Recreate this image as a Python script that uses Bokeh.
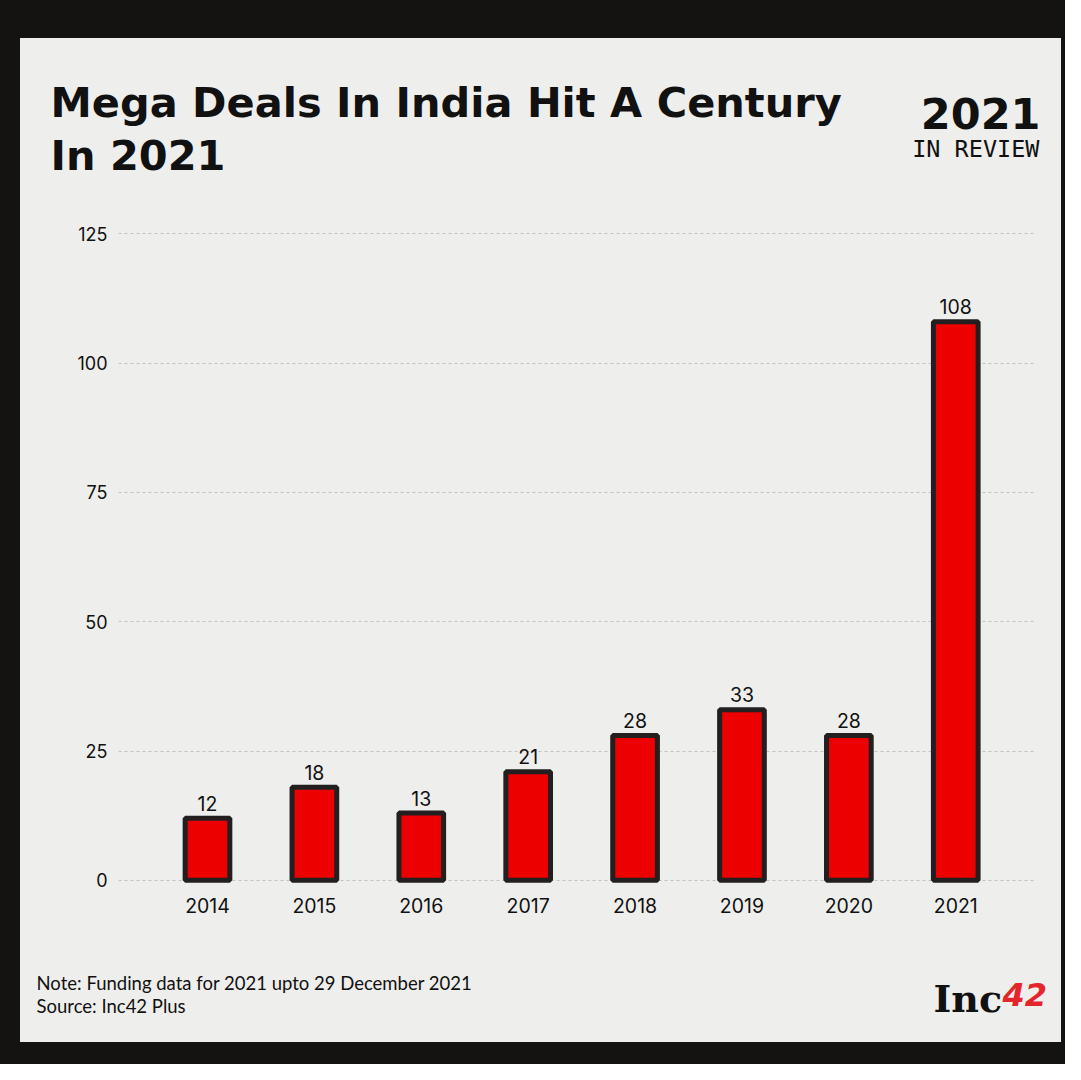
from bokeh.plotting import figure
from bokeh.layouts import column
from bokeh.models import ColumnDataSource, Range1d, FixedTicker, Label
from bokeh.embed import file_html
from bokeh.resources import INLINE
from bokeh.core.properties import value

# ---- data ----
years = ["2014", "2015", "2016", "2017", "2018", "2019", "2020", "2021"]
deals = [12, 18, 13, 21, 28, 33, 28, 108]
y_ticks = [0, 25, 50, 75, 100, 125]

title_lines = ["Mega Deals In India Hit A Century", "In 2021"]
badge_year = "2021"
badge_sub = "IN REVIEW"
notes = ["Note: Funding data for 2021 upto 29 December 2021", "Source: Inc42 Plus"]
logo_a = "Inc"
logo_b = "42"

# ---- layout ----
W = 1041
TOP_H, CHART_H, BOT_H = 170, 750, 84
FL, FR, FT, FB = 98, 26, 15, 73
X0, X1 = -0.8326, 7.746
Y0, Y1 = -1, 127

PANEL = "#eeeeec"
INK = "#111111"


def blank_fig(h):
    f = figure(width=W, height=h, x_range=Range1d(0, W), y_range=Range1d(h, 0),
               output_backend="svg", toolbar_location=None, min_border=0,
               x_axis_type=None, y_axis_type=None, frame_align=False)
    f.background_fill_color = PANEL
    f.border_fill_color = PANEL
    f.outline_line_color = None
    f.xgrid.visible = False
    f.ygrid.visible = False
    return f


def lab(f, txt, cx, cy, size, font, style="normal", color=INK, align="left"):
    f.add_layout(Label(x=cx, y=cy, text=txt, text_font=font,
                       text_font_size=size, text_font_style=style,
                       text_color=color, text_align=align,
                       text_baseline="alphabetic"))


# ---- header ----
top = blank_fig(TOP_H)
lab(top, title_lines[0], 30, 64, "41.5px", "DejaVu Sans", "bold")
lab(top, title_lines[1], 30, 117, "41.5px", "DejaVu Sans", "bold")
lab(top, badge_year, 1020, 75, "43px", "DejaVu Sans", "bold", align="right")
lab(top, badge_sub, 1019, 110, "23.5px", "DejaVu Sans Mono", align="right")

# ---- chart ----
p = figure(width=W, height=CHART_H, x_range=Range1d(X0, X1), y_range=Range1d(Y0, Y1),
           output_backend="svg", toolbar_location=None, frame_align=False,
           min_border_left=FL, min_border_right=FR, min_border_top=FT, min_border_bottom=FB)
p.background_fill_color = PANEL
p.border_fill_color = PANEL
p.outline_line_color = None

xs = list(range(len(years)))
src = ColumnDataSource(dict(x=xs, v=deals, lbl=[str(v) for v in deals]))

p.vbar(x="x", top="v", width=0.418, source=src, fill_color="#ec0000",
       line_color="#231f20", line_width=5)
p.text(x="x", y="v", text="lbl", source=src, text_align="center",
       text_baseline="alphabetic", y_offset=-15, text_font=value("Inter"),
       text_font_size="19.5px", text_color=INK)

p.xaxis.ticker = FixedTicker(ticks=xs)
p.xaxis.major_label_overrides = {i: y for i, y in enumerate(years)}
p.yaxis.ticker = FixedTicker(ticks=y_ticks)
for ax in (p.xaxis[0], p.yaxis[0]):
    ax.axis_line_color = None
    ax.major_tick_line_color = None
    ax.minor_tick_line_color = None
    ax.major_tick_out = 0
    ax.major_tick_in = 0
    ax.major_label_text_font = "Inter"
    ax.major_label_text_color = INK
p.xaxis.major_label_text_font_size = "19.5px"
p.xaxis.major_label_standoff = 12
p.yaxis.major_label_text_font_size = "18px"
p.yaxis.major_label_standoff = 11

p.xgrid.visible = False
p.ygrid.ticker = FixedTicker(ticks=y_ticks)
p.ygrid.grid_line_color = "#c2c2c2"
p.ygrid.grid_line_dash = "3 3"
p.ygrid.grid_line_width = 1

# ---- footer ----
bot = blank_fig(BOT_H)
lab(bot, notes[0], 16, 24, "18.5px", "Lato")
lab(bot, notes[1], 16, 47, "18.5px", "Lato")
lab(bot, logo_a, 913, 40, "38px", "DejaVu Serif", "bold")
lab(bot, logo_b, 982, 36, "32px", "DejaVu Sans", "bold italic", color="#e4262c")

page = column(top, p, bot, spacing=0)
page.styles = {"border-style": "solid", "border-color": "#141311",
               "border-width": "38px 4px 22px 20px", "box-sizing": "content-box",
               "background-color": PANEL}

open("out.html", "w").write(file_html(page, INLINE))
